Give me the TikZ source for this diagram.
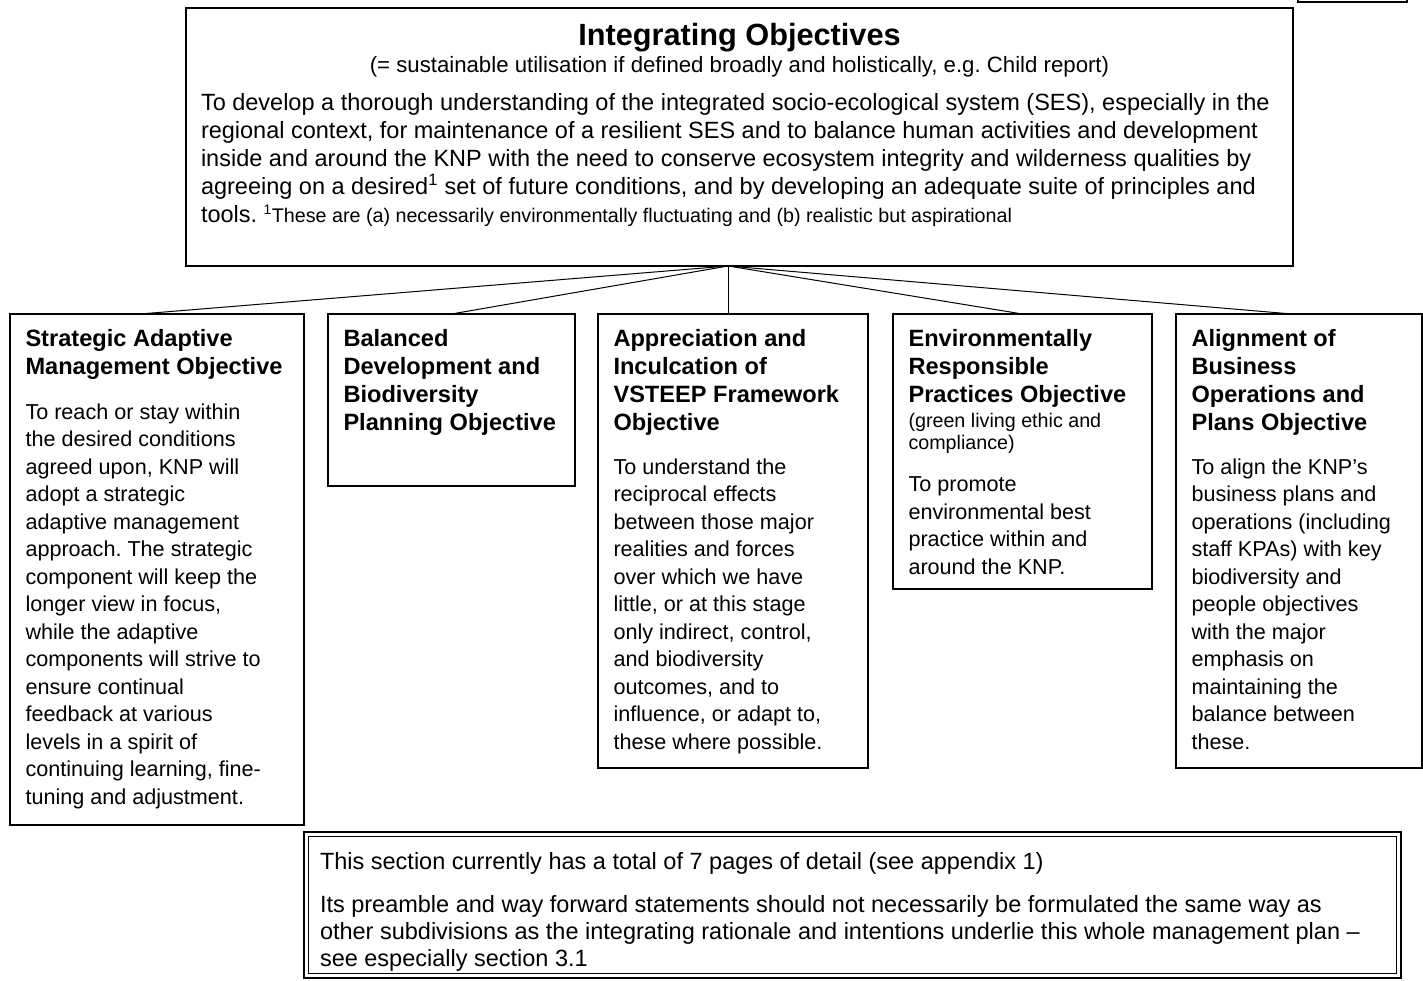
\documentclass[tikz,border=0pt]{standalone}
\usepackage{fontspec}
\setmainfont{Liberation Sans}
\usepackage{tikz}
\frenchspacing

\newcommand{\ttlfont}{\fontsize{30.7}{36}\selectfont\bfseries\spaceskip=0pt\xspaceskip=0pt}
\newcommand{\hdfont}{\fontsize{23.6}{28}\selectfont\bfseries\spaceskip=0pt\xspaceskip=0pt}
\newcommand{\bdfont}{\fontsize{21.6}{27.5}\selectfont\spaceskip=0pt\xspaceskip=0pt}
\newcommand{\tpfont}{\fontsize{23.5}{28}\selectfont\spaceskip=0pt\xspaceskip=0pt}
\newcommand{\smfont}{\fontsize{22.2}{25}\selectfont\spaceskip=0pt\xspaceskip=0pt}
\newcommand{\ntfont}{\fontsize{19.7}{22}\selectfont\spaceskip=0pt\xspaceskip=0pt}

\begin{document}
\begin{tikzpicture}[x=1pt, y=-1pt, line width=1.1pt,
    objbox/.style={draw, anchor=north west, outer sep=0pt, inner xsep=15.5pt,
      inner ysep=0pt, align=flush left, text height=32.5pt},
    link/.style={line width=1pt}]
  \useasboundingbox (0,0) rectangle (1423,981);

  \draw[line width=1.4pt] (1298,-10) rectangle (1407,2);

  \node[draw, anchor=north west, outer sep=0pt, inner xsep=15pt, inner ysep=0pt,
    text width=1077pt, align=flush left, text height=38pt, text depth=220pt] (integ) at (186,8)
  {{\centering\ttlfont Integrating Objectives\par}
   \vspace{1.5pt}
   {\centering\smfont (= sustainable utilisation if defined broadly and holistically, e.g. Child report)\par}
   \vspace{10pt}
   {\tpfont To develop a thorough understanding of the integrated socio-ecological system (SES), especially in the\\
    regional context, for maintenance of a resilient SES and to balance human activities and development\\
    inside and around the KNP with the need to conserve ecosystem integrity and wilderness qualities by\\
    agreeing on a desired\textsuperscript{1} set of future conditions, and by developing an adequate suite of principles and\\
    tools. {\ntfont\textsuperscript{1}These are (a) necessarily environmentally fluctuating and (b) realistic but aspirational}\par}};

  \node[objbox, text width=263pt, text depth=478.5pt] (sam) at (10,314)
  {{\hdfont Strategic Adaptive\\Management Objective\par}
   \vspace{17pt}
   {\bdfont To reach or stay within\\the desired conditions\\agreed upon, KNP will\\adopt a strategic\\
    adaptive management\\approach. The strategic\\component will keep the\\longer view in focus,\\
    while the adaptive\\components will strive to\\ensure continual\\feedback at various\\
    levels in a spirit of\\continuing learning, fine-\\tuning and adjustment.\par}};

  \node[objbox, text width=216pt, text depth=139.5pt] (bdp) at (328,314)
  {{\hdfont Balanced\\Development and\\Biodiversity\\Planning Objective\par}};

  \node[objbox, text width=239pt, text depth=421.5pt] (vst) at (598,314)
  {{\hdfont Appreciation and\\Inculcation of\\VSTEEP Framework\\Objective\par}
   \vspace{16pt}
   {\bdfont To understand the\\reciprocal effects\\between those major\\realities and forces\\
    over which we have\\little, or at this stage\\only indirect, control,\\and biodiversity\\
    outcomes, and to\\influence, or adapt to,\\these where possible.\par}};

  \node[objbox, text width=228pt, text depth=242.5pt] (erp) at (893,314)
  {{\hdfont Environmentally\\Responsible\\Practices Objective\par}
   \vspace{2.5pt}
   {\ntfont (green living ethic and\\compliance)\par}
   \vspace{15.3pt}
   {\bdfont To promote\\environmental best\\practice within and\\around the KNP.\par}};

  \node[objbox, text width=215pt, text depth=421.5pt] (bop) at (1176,314)
  {{\hdfont Alignment of\\Business\\Operations and\\Plans Objective\par}
   \vspace{16pt}
   {\bdfont To align the KNP’s\\business plans and\\operations (including\\staff KPAs) with key\\
    biodiversity and\\people objectives\\with the major\\emphasis on\\maintaining the\\
    balance between\\these.\par}};

  \coordinate (hub) at ([xshift=-11.5pt]integ.south);
  \draw[link] (hub) -- ([xshift=-17pt]sam.north);
  \draw[link] (hub) -- (bdp.north);
  \draw[link] (hub) -- (hub |- vst.north);
  \draw[link] (hub) -- (erp.north);
  \draw[link] (hub) -- ([xshift=-7pt]bop.north);

  \node[draw, line width=2pt, anchor=north west, outer sep=0pt, inner xsep=16pt, inner ysep=0pt,
    text width=1065pt, align=flush left, text height=37.5pt, text depth=108.5pt] (note) at (304,832)
  {{\tpfont This section currently has a total of 7 pages of detail (see appendix 1)\par}
   \vspace{16pt}
   {\fontsize{23.5}{27}\selectfont\spaceskip=0pt Its preamble and way forward statements should not necessarily be formulated the same way as\\
    other subdivisions as the integrating rationale and intentions underlie this whole management plan --\\
    see especially section 3.1\par}};
  \draw[line width=0.8pt] ([shift={(4.5,4.5)}]note.north west) rectangle ([shift={(-4.5,-4.5)}]note.south east);
\end{tikzpicture}
\end{document}
